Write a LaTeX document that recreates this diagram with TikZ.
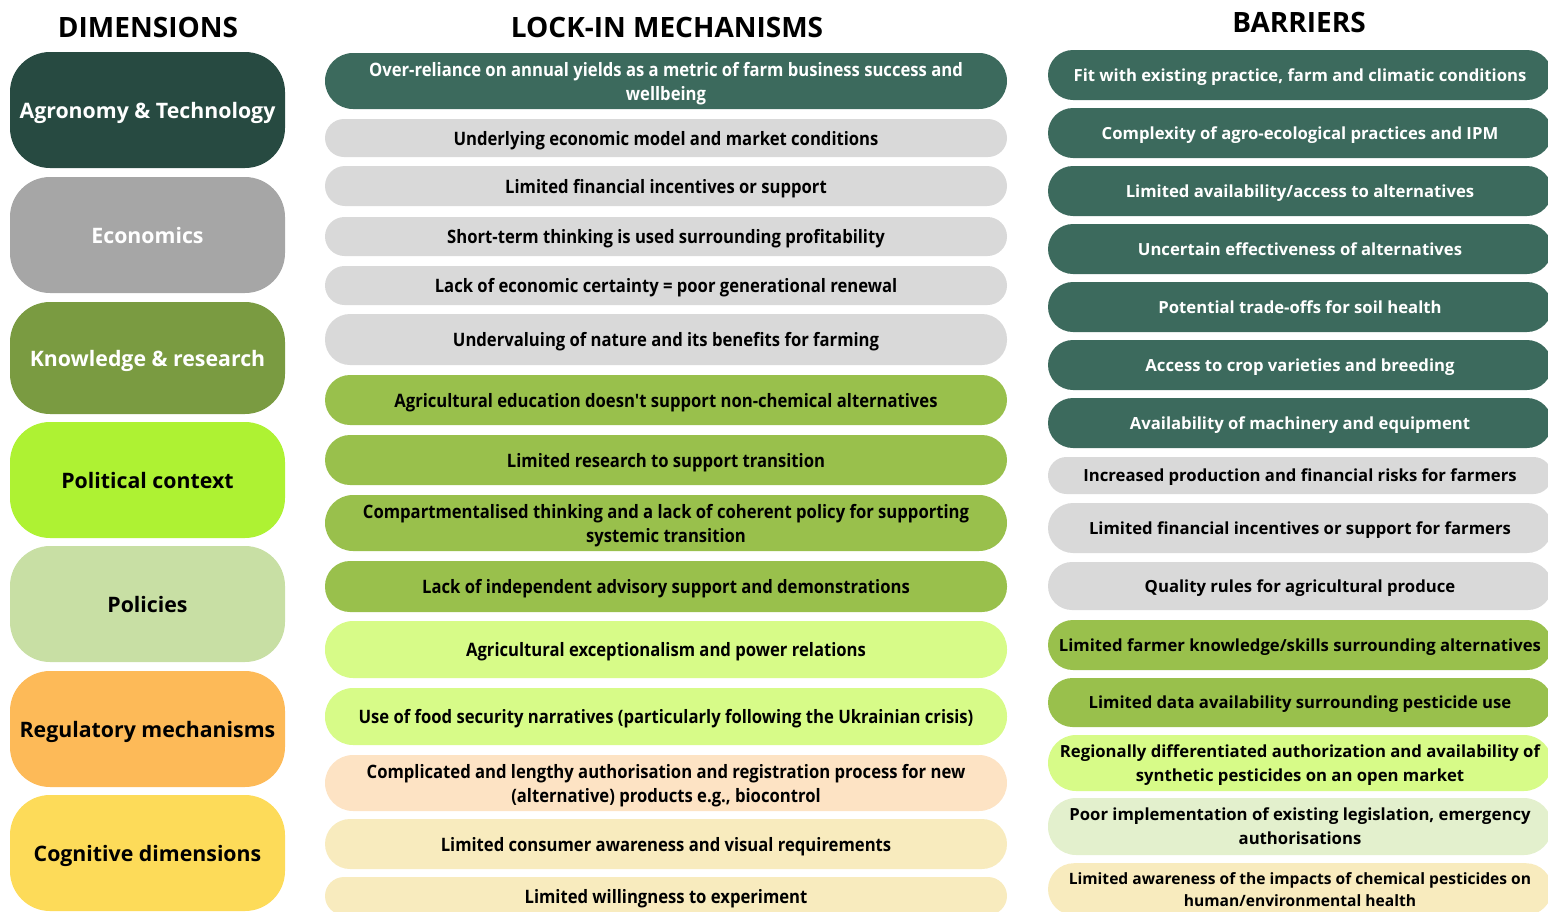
\documentclass[tikz,border=0pt]{standalone}
\usepackage{fontspec}
\setmainfont{Open Sans}
\newfontfamily\condfont{Open Sans}[FakeStretch=0.9]
\definecolor{agro}{HTML}{274A41}
\definecolor{econ}{HTML}{A6A6A6}
\definecolor{know}{HTML}{7A9B41}
\definecolor{poli}{HTML}{AEF233}
\definecolor{pols}{HTML}{C8DFA4}
\definecolor{regu}{HTML}{FDBA58}
\definecolor{cogn}{HTML}{FDDB59}
\definecolor{teal}{HTML}{3C6A5D}
\definecolor{lgray}{HTML}{D9D9D9}
\definecolor{leaf}{HTML}{99C04C}
\definecolor{lime}{HTML}{D7FB88}
\definecolor{mint}{HTML}{E3F0CD}
\definecolor{peach}{HTML}{FDE3C4}
\definecolor{cream}{HTML}{F8EBBE}
\tikzset{
  header/.style={font=\bfseries\fontsize{28}{32}\selectfont, inner sep=0pt},
  % two-line labels: ignore the descender of the last line
  twoline/.style={text depth=0pt},
  % single-line labels: fixed box so that capitals sit centred whatever the letters
  dimbox/.style={rectangle, rounded corners=40pt, minimum width=275pt, inner sep=0pt,
    align=center, text height=17.2pt, text depth=0pt,
    font=\bfseries\fontsize{21.3}{26}\selectfont},
  mechbox/.style={rectangle, minimum width=682pt, inner sep=0pt, align=center,
    font=\condfont\bfseries\fontsize{18.5}{24}\selectfont},
  mechline/.style={mechbox, text height=14pt, text depth=0pt},
  barbox/.style={rectangle, minimum width=504pt, inner sep=0pt, align=center,
    font=\bfseries\fontsize{16.7}{24}\selectfont},
  barline/.style={barbox, text height=12.4pt, text depth=0pt},
}
\begin{document}
\begin{tikzpicture}[x=1pt,y=-1pt]
\path[use as bounding box] (0,0) rectangle (1548,911);
\clip (0,0) rectangle (1548,911);

% column headings
\node[header] (hdim) at (148,27) {DIMENSIONS};
\node[header] (hmech) at (667,27) {LOCK-IN MECHANISMS};
\node[header] (hbar) at (1299,22) {BARRIERS};

% dimensions
\node[dimbox, fill=agro, text=white, minimum height=116pt] (d1) at (147.5,110) {Agronomy \& Technology};
\node[dimbox, fill=econ, text=white, minimum height=116pt] (d2) at (147.5,235) {Economics};
\node[dimbox, fill=know, text=white, minimum height=112pt] (d3) at (147.5,358) {Knowledge \& research};
\node[dimbox, fill=poli, text=black, minimum height=116pt] (d4) at (147.5,480) {Political context};
\node[dimbox, fill=pols, text=black, minimum height=116pt] (d5) at (147.5,604) {Policies};
\node[dimbox, fill=regu, text=black, minimum height=116pt] (d6) at (147.5,729) {Regulatory mechanisms};
\node[dimbox, fill=cogn, text=black, minimum height=116pt] (d7) at (147.5,853) {Cognitive dimensions};

% lock-in mechanisms
\node[mechbox, twoline, fill=teal, text=white, minimum height=56pt, rounded corners=28pt] (m1) at (666,81)
  {Over-reliance on annual yields as a metric of farm business success and\\wellbeing};
\node[mechline, fill=lgray, minimum height=38pt, rounded corners=19pt] (m2) at (666,138)
  {Underlying economic model and market conditions};
\node[mechline, fill=lgray, minimum height=40pt, rounded corners=20pt] (m3) at (666,186)
  {Limited financial incentives or support};
\node[mechline, fill=lgray, minimum height=39pt, rounded corners=19.5pt] (m4) at (666,236.5)
  {Short-term thinking is used surrounding profitability};
\node[mechline, fill=lgray, minimum height=39pt, rounded corners=19.5pt] (m5) at (666,285.5)
  {Lack of economic certainty = poor generational renewal};
\node[mechline, fill=lgray, minimum height=51pt, rounded corners=25pt] (m6) at (666,339.5)
  {Undervaluing of nature and its benefits for farming};
\node[mechline, fill=leaf, minimum height=50pt, rounded corners=25pt] (m7) at (666,400)
  {Agricultural education doesn't support non-chemical alternatives};
\node[mechline, fill=leaf, minimum height=50pt, rounded corners=25pt] (m8) at (666,460)
  {Limited research to support transition};
\node[mechbox, twoline, fill=leaf, minimum height=56pt, rounded corners=28pt] (m9) at (666,523)
  {Compartmentalised thinking and a lack of coherent policy for supporting\\systemic transition};
\node[mechline, fill=leaf, minimum height=51pt, rounded corners=25pt] (m10) at (666,586.5)
  {Lack of independent advisory support and demonstrations};
\node[mechline, fill=lime, minimum height=57pt, rounded corners=28pt] (m11) at (666,649.5)
  {Agricultural exceptionalism and power relations};
\node[mechline, fill=lime, minimum height=57pt, rounded corners=28pt] (m12) at (666,716.5)
  {Use of food security narratives (particularly following the Ukrainian crisis)};
\node[mechbox, twoline, fill=peach, minimum height=56pt, rounded corners=28pt] (m13) at (666,783)
  {Complicated and lengthy authorisation and registration process for new\\(alternative) products e.g., biocontrol};
\node[mechline, fill=cream, minimum height=50pt, rounded corners=25pt] (m14) at (666,844)
  {Limited consumer awareness and visual requirements};
\node[mechline, fill=cream, minimum height=38pt, rounded corners=19pt] (m15) at (666,896)
  {Limited willingness to experiment};

% barriers
\node[barline, fill=teal, text=white, minimum height=50pt, rounded corners=25pt] (b1) at (1300,75)
  {Fit with existing practice, farm and climatic conditions};
\node[barline, fill=teal, text=white, minimum height=50pt, rounded corners=25pt] (b2) at (1300,133)
  {Complexity of agro-ecological practices and IPM};
\node[barline, fill=teal, text=white, minimum height=50pt, rounded corners=25pt] (b3) at (1300,191)
  {Limited availability/access to alternatives};
\node[barline, fill=teal, text=white, minimum height=50pt, rounded corners=25pt] (b4) at (1300,249)
  {Uncertain effectiveness of alternatives};
\node[barline, fill=teal, text=white, minimum height=50pt, rounded corners=25pt] (b5) at (1300,307)
  {Potential trade-offs for soil health};
\node[barline, fill=teal, text=white, minimum height=50pt, rounded corners=25pt] (b6) at (1300,365)
  {Access to crop varieties and breeding};
\node[barline, fill=teal, text=white, minimum height=50pt, rounded corners=25pt] (b7) at (1300,423)
  {Availability of machinery and equipment};
\node[barline, fill=lgray, minimum height=37pt, rounded corners=18.5pt] (b8) at (1300,475.5)
  {Increased production and financial risks for farmers};
\node[barline, fill=lgray, minimum height=50pt, rounded corners=25pt] (b9) at (1300,528)
  {Limited financial incentives or support for farmers};
\node[barline, fill=lgray, minimum height=48pt, rounded corners=24pt] (b10) at (1300,586)
  {Quality rules for agricultural produce};
\node[barline, fill=leaf, minimum height=50pt, rounded corners=25pt] (b11) at (1300,645)
  {Limited farmer knowledge/skills surrounding alternatives};
\node[barline, fill=leaf, minimum height=49pt, rounded corners=24.5pt] (b12) at (1300,702.5)
  {Limited data availability surrounding pesticide use};
\node[barbox, twoline, fill=lime, minimum height=56pt, rounded corners=28pt] (b13) at (1300,763)
  {Regionally differentiated authorization and availability of\\synthetic pesticides on an open market};
\node[barbox, twoline, fill=mint, minimum height=57pt, rounded corners=28pt] (b14) at (1300,826.5)
  {Poor implementation of existing legislation, emergency\\authorisations};
\node[barbox, fill=cream, minimum height=52pt, rounded corners=26pt, anchor=north,
  font=\bfseries\fontsize{15.6}{22}\selectfont] (b15) at (1300,863)
  {Limited awareness of the impacts of chemical pesticides on\\human/environmental health};
\end{tikzpicture}
\end{document}
